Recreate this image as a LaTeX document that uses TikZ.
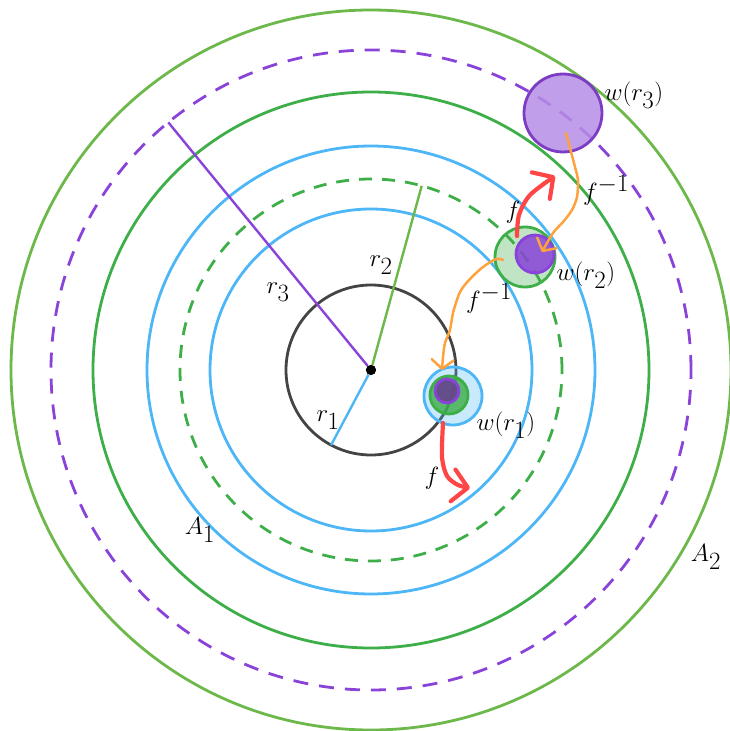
\documentclass[tikz,border=0pt]{standalone}
\usetikzlibrary{arrows.meta}
\definecolor{skyblue}{HTML}{4DB6F7}
\definecolor{ringgreen}{HTML}{3DAE48}
\definecolor{leafgreen}{HTML}{6DB84A}
\definecolor{violet}{HTML}{8A43D9}
\definecolor{lilac}{HTML}{B68DE6}
\definecolor{coal}{HTML}{444444}
\definecolor{fred}{HTML}{FF4646}
\definecolor{forange}{HTML}{FFA23E}
\begin{document}
\begin{tikzpicture}[
  x=1pt, y=1pt,
  font=\fontsize{33}{38}\selectfont,
  ring/.style={line width=2.8pt},
  dashring/.style={line width=2.8pt, dash pattern=on 13pt off 10pt},
  spoke/.style={line width=2.4pt},
  disc/.style={circle, draw, line width=2.8pt, inner sep=0pt},
  fwd/.style={draw=fred, line width=4.2pt, line cap=round, line join=round,
    -{Straight Barb[round, length=15pt, width=32pt]}},
  bwd/.style={draw=forange, line width=2.5pt, line cap=round, line join=round,
    -{Straight Barb[round, length=9pt, width=22pt]}},
]
\useasboundingbox (-371,-361) rectangle (358,370);

\node[circle, fill=black, inner sep=0pt, minimum size=10pt] (o) at (0,0) {};

\draw[ring, coal] (o) circle (85);
\draw[ring, skyblue] (o) circle (161);
\draw[dashring, ringgreen] (o) circle (191);
\draw[ring, skyblue] (o) circle (224);
\draw[ring, ringgreen] (o) circle (278);
\draw[dashring, violet, dash pattern=on 15pt off 11pt] (o) circle (320);
\draw[ring, leafgreen] (o) circle (360);

\coordinate (e1) at (242:85);
\coordinate (e2) at (74.6:191);
\coordinate (e3) at (129.3:320);
\draw[spoke, skyblue] (o) -- (e1);
\draw[spoke, leafgreen] (o) -- (e2);
\draw[spoke, violet] (o) -- (e3);
\node[circle, fill=black, inner sep=0pt, minimum size=10pt] at (o) {};

\node (r1) at (-43,-50) {$r_1$};
\node (r2) at (10,105) {$r_2$};
\node (r3) at (-93,78) {$r_3$};
\node (a1) at (-171,-160) {$A_1$};
\node (a2) at (335,-187) {$A_2$};

\node[disc, draw=violet!90!black, fill=lilac, fill opacity=0.85, minimum size=78pt] (w3) at (192,257) {};
\node[disc, draw=ringgreen, fill=ringgreen, fill opacity=0.32, minimum size=60pt] (w2) at (154,113) {};
\node[disc, draw=violet, fill=violet, fill opacity=0.85, minimum size=38pt] (w2p) at (164,116) {};
\node[disc, draw=skyblue, fill=skyblue, fill opacity=0.3, minimum size=58pt] (w1) at (82,-26) {};
\node[disc, draw=ringgreen, fill=ringgreen, fill opacity=0.8, minimum size=38pt] (w1g) at (78,-25) {};
\node[disc, draw=violet, fill=violet!50!coal, fill opacity=0.9, minimum size=24pt] (w1p) at (76,-21) {};

\node[anchor=west] (lw3) at (230,275) {$w(r_3)$};
\node[anchor=west] (lw2) at (182,95) {$w(r_2)$};
\node[anchor=west] (lw1) at (102,-55) {$w(r_1)$};

\coordinate (s1) at (72,-53);
\coordinate (t1) at (99,-118);
\coordinate (s2) at (146,134);
\coordinate (t2) at (184,194);
\coordinate (s3) at (195,237);
\coordinate (t3) at (171,118);
\coordinate (s4) at (132,110);
\coordinate (t4) at (71,0);

\draw[fwd] plot[smooth] coordinates {(s1) (71,-87) (76,-106) (87,-115) (t1)};
\draw[fwd] plot[smooth] coordinates {(s2) (148,155) (159,175) (t2)};
\draw[bwd] plot[smooth] coordinates {(s3) (204,203) (207,190) (206,173) (201,160) (192,148) (182,137) (t3)};
\draw[bwd] plot[smooth] coordinates {(s4) (125,111) (112,103) (99,91) (89,78) (82,57) (79,40) (74,27) (72,13) (t4)};

\node (f1) at (61,-108) {$f$};
\node (f2) at (142,158) {$f$};
\node (g1) at (235,180) {$f^{-1}$};
\node (g2) at (118,72) {$f^{-1}$};
\end{tikzpicture}
\end{document}
